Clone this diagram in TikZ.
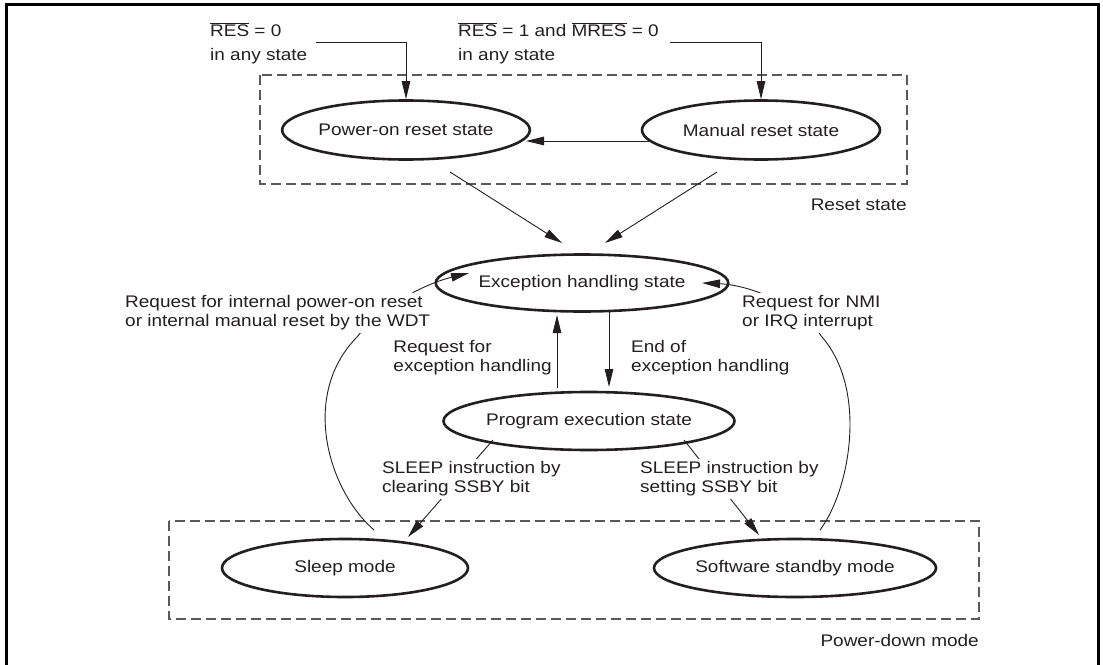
\documentclass[tikz,border=0pt]{standalone}
\usepackage{fontspec}
\setmainfont[FakeStretch=1.13]{Liberation Sans}
\usetikzlibrary{arrows.meta,calc,shapes.geometric}
\definecolor{ink}{HTML}{231F20}
\newcommand\lblfont{\fontsize{16.8}{19}\selectfont}
\newcommand\ovl[1]{\ensuremath{\overline{\mbox{#1}}}}
\begin{document}
\begin{tikzpicture}[x=1pt,y=-1pt,
  every node/.style={text=ink},
  state/.style={ellipse,draw=ink,line width=2.6pt,inner sep=0pt,font=\lblfont},
  arr/.style={draw=ink,line width=0.9pt,-{Triangle[length=18pt,width=8.5pt]}},
  region/.style={draw=black!65,dash pattern=on 10pt off 5pt,line width=1.3pt},
  lbl/.style={font=\lblfont,align=left,inner sep=0pt},
  cover/.style={lbl,fill=white,inner sep=3pt},
]
\useasboundingbox (0,0) rectangle (1103,664);
\draw[line width=3pt] (6,680) -- (6,4) -- (1098,4) -- (1098,680);

% groups
\draw[region] (260,75) rectangle (907,184);
\draw[region] (169,521) rectangle (979,619);
\node[lbl,anchor=east] (rsl) at (907,205) {Reset state};
\node[lbl,anchor=east] (pdl) at (979,640) {Power-down mode};

% states
\node[state,minimum width=238pt,minimum height=59pt] (po) at (406,130) {Power-on reset state};
\node[state,minimum width=238pt,minimum height=59pt] (mr) at (761,130) {Manual reset state};
\node[state,minimum width=240pt,minimum height=57pt] (exc) at (582,283) {Exception handling state};
\node[state,minimum width=228pt,minimum height=58pt] (prog) at (589,421) {Program execution state};
\node[state,minimum width=246pt,minimum height=58pt] (sleep) at (345,568) {Sleep mode};
\node[state,minimum width=238pt,minimum height=58pt] (sb) at (795,568) {Software standby mode};

% top conditions
\node[lbl,anchor=west] (t1) at (210,43) {\ovl{RES} = 0\\[5pt]in any state};
\node[lbl,anchor=west] (t2) at (458,43) {\ovl{RES} = 1 and \ovl{MRES} = 0\\[5pt]in any state};
\coordinate (s1) at (316,42);
\coordinate (s2) at (670,42);
\draw[arr] (s1) -| (po);
\draw[arr] (s2) -| (mr);

% connectors
\draw[arr] ($(po.center)+(44,42)$) -- ($(exc.center)+(-20,-40)$);
\draw[arr] ($(mr.center)+(-44,42)$) -- ($(exc.center)+(23,-40)$);
\draw[arr] ($(mr.center)+(-112,11)$) -- ($(po.center)+(120,11)$);
\draw[arr] ($(exc.center)+(27,28)$) -- ($(prog.center)+(20,-34)$);
\draw[arr] ($(prog.center)+(-32,-33)$) -- ($(exc.center)+(-25,32)$);
\draw[arr] ($(prog.center)+(-96,19)$) -- ($(sleep.center)+(63,-31)$);
\draw[arr] ($(prog.center)+(95,19)$) -- ($(sb.center)+(-36,-33)$);
\draw[arr] ($(sleep.center)+(29,-38)$) .. controls (328,490) and (300,395) .. (357,337)
  .. controls (378,310) and (420,285) .. ($(exc.center)+(-113,-10)$);
\draw[arr] ($(sb.center)+(25,-38)$) .. controls (850,490) and (868,390) .. (822,337)
  .. controls (800,305) and (750,285) .. ($(exc.center)+(120,0)$);

% labels
\node[cover,anchor=west] (wdt) at (122,313) {Request for internal power-on reset\\or internal manual reset by the WDT};
\node[cover,anchor=west] (nmi) at (739,313) {Request for NMI\\or IRQ interrupt};
\node[lbl,anchor=east] (rq) at (552,358) {Request for\\exception handling};
\node[lbl,anchor=west] (eo) at (631,358) {End of\\exception handling};
\node[cover,anchor=west] (sl1) at (379,479) {SLEEP instruction by\\clearing SSBY bit};
\node[cover,anchor=west] (sl2) at (637,479) {SLEEP instruction by\\setting SSBY bit};
\end{tikzpicture}
\end{document}
